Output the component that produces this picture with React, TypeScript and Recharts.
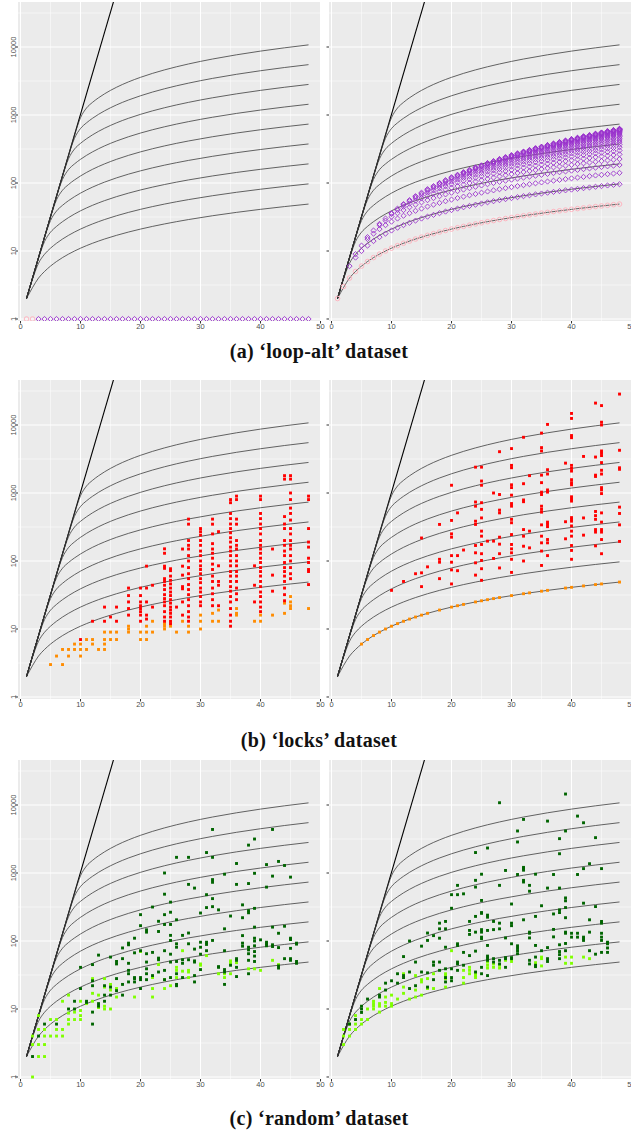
import { ComposedChart, Scatter, Line, XAxis, YAxis, CartesianGrid, ReferenceLine } from "recharts";

// ---- axes ----
const X_DOMAIN: [number, number] = [-0.42, 50.08];
const Y_DOMAIN: [number, number] = [0.9345, 45900];
const X_TICKS = [0, 10, 20, 30, 40, 50];
const X_MINOR = [5, 15, 25, 35, 45];
const Y_TICKS = [1, 10, 100, 1000, 10000];
const Y_MINOR = [3.162, 31.62, 316.2, 3162, 31623];

// ---- reference curves (same in every panel) ----
const steepX = [1, 16];
const steepY = [2, 65536];
const curveX = [1, 2, 3, 4, 5, 6, 7, 8, 9, 10, 11, 12, 13, 14, 16, 18, 20, 24, 28, 32, 36, 40, 44, 48];
const curve1 = [2, 2.9, 4, 5, 6, 7, 8, 9, 10, 11, 12, 13, 14, 15, 17, 19, 21, 25, 29, 33, 37, 41, 45, 49];
const curve2 = [2, 3.85, 6.6, 8.95, 11, 13, 15, 17, 19, 21, 23, 25, 27, 29, 33, 37, 41, 49, 57, 65, 73, 81, 89, 97];
const curve3 = [2, 3.98, 7.8, 13.75, 18.9, 23, 27, 31, 35, 39, 43, 47, 51, 55, 63, 71, 79, 95, 111, 127, 143, 159, 175, 191];
const curve4 = [2, 4, 7.98, 15.7, 28, 38.7, 47, 55, 63, 71, 79, 87, 95, 103, 119, 135, 151, 183, 215, 247, 279, 311, 343, 375];
const curve5 = [2, 4, 8, 16, 31.5, 56.6, 78.3, 95, 111, 127, 143, 159, 175, 191, 223, 255, 287, 351, 415, 479, 543, 607, 671, 735];
const curve6 = [2, 4, 8, 16, 32, 63, 113, 157.5, 191, 223, 255, 287, 319, 351, 415, 479, 543, 671, 799, 927, 1055, 1183, 1311, 1439];
const curve7 = [2, 4, 8, 16, 32, 64, 126, 227, 316, 383, 447, 511, 575, 639, 767, 895, 1023, 1279, 1535, 1791, 2047, 2303, 2559, 2815];
const curve8 = [2, 4, 8, 16, 32, 64, 128, 252, 456, 633, 767, 895, 1023, 1151, 1407, 1663, 1919, 2431, 2943, 3455, 3967, 4479, 4991, 5503];
const curve9 = [2, 4, 8, 16, 32, 64, 128, 256, 505, 912, 1267, 1535, 1791, 2047, 2559, 3071, 3583, 4607, 5631, 6655, 7679, 8703, 9727, 10751];

// ---- (a) loop-alt ----
const loopLeftPinkX = [1, 2];
const loopLeftPurpleX = [3, 4, 5, 6, 7, 8, 9, 10, 11, 12, 13, 14, 15, 16, 17, 18, 19, 20, 21, 22, 23, 24, 25, 26, 27, 28, 29, 30, 31, 32, 33, 34, 35, 36, 37, 38, 39, 40, 41, 42, 43, 44, 45, 46, 47, 48];
const loopRightPinkX = [1, 2, 3, 4, 5, 6, 7, 8, 9, 10, 11, 12, 13, 14, 15, 16, 17, 18, 19, 20, 21, 22, 23, 24, 25, 26, 27, 28, 29, 30, 31, 32, 33, 34, 35, 36, 37, 38, 39, 40, 41, 42, 43, 44, 45, 46, 47, 48];
const loopRightPinkY = [2, 3, 4, 5, 6, 7, 8, 9, 10, 11, 12, 13, 14, 15, 16, 17, 18, 19, 20, 21, 22, 23, 24, 25, 26, 27, 28, 29, 30, 31, 32, 33, 34, 35, 36, 37, 38, 39, 40, 41, 42, 43, 44, 45, 46, 47, 48, 49];
const loopRightPurple: [number, number[]][] = [
  [3, [6]],
  [4, [8, 9]],
  [5, [10, 12]],
  [6, [12, 15, 16]],
  [7, [14, 18, 20]],
  [8, [16, 21, 24, 25]],
  [9, [18, 24, 28, 30]],
  [10, [20, 27, 32, 35, 36]],
  [11, [22, 30, 36, 40, 42]],
  [12, [24, 33, 40, 45, 48, 49]],
  [13, [26, 36, 44, 50, 54, 56]],
  [14, [28, 39, 48, 55, 60, 63, 64]],
  [15, [30, 42, 52, 60, 66, 70, 72]],
  [16, [32, 45, 56, 65, 72, 77, 80, 81]],
  [17, [34, 48, 60, 70, 78, 84, 88, 90]],
  [18, [36, 51, 64, 75, 84, 91, 96, 99, 100]],
  [19, [38, 54, 68, 80, 90, 98, 104, 108, 110]],
  [20, [40, 57, 72, 85, 96, 105, 112, 117, 120, 121]],
  [21, [42, 60, 76, 90, 102, 112, 120, 126, 130, 132]],
  [22, [44, 63, 80, 95, 108, 119, 128, 135, 140, 143, 144]],
  [23, [46, 66, 84, 100, 114, 126, 136, 144, 150, 154, 156]],
  [24, [48, 69, 88, 105, 120, 133, 144, 153, 160, 165, 168, 169]],
  [25, [50, 72, 92, 110, 126, 140, 152, 162, 170, 176, 180, 182]],
  [26, [52, 75, 96, 115, 132, 147, 160, 171, 180, 187, 192, 195, 196]],
  [27, [54, 78, 100, 120, 138, 154, 168, 180, 190, 198, 204, 208, 210]],
  [28, [56, 81, 104, 125, 144, 161, 176, 189, 200, 209, 216, 221, 224, 225]],
  [29, [58, 84, 108, 130, 150, 168, 184, 198, 210, 220, 228, 234, 238, 240]],
  [30, [60, 87, 112, 135, 156, 175, 192, 207, 220, 231, 240, 247, 252, 255, 256]],
  [31, [62, 90, 116, 140, 162, 182, 200, 216, 230, 242, 252, 260, 266, 270, 272]],
  [32, [64, 93, 120, 145, 168, 189, 208, 225, 240, 253, 264, 273, 280, 285, 288, 289]],
  [33, [66, 96, 124, 150, 174, 196, 216, 234, 250, 264, 276, 286, 294, 300, 304, 306]],
  [34, [68, 99, 128, 155, 180, 203, 224, 243, 260, 275, 288, 299, 308, 315, 320, 323, 324]],
  [35, [70, 102, 132, 160, 186, 210, 232, 252, 270, 286, 300, 312, 322, 330, 336, 340, 342]],
  [36, [72, 105, 136, 165, 192, 217, 240, 261, 280, 297, 312, 325, 336, 345, 352, 357, 360, 361]],
  [37, [74, 108, 140, 170, 198, 224, 248, 270, 290, 308, 324, 338, 350, 360, 368, 374, 378, 380]],
  [38, [76, 111, 144, 175, 204, 231, 256, 279, 300, 319, 336, 351, 364, 375, 384, 391, 396, 399, 400]],
  [39, [78, 114, 148, 180, 210, 238, 264, 288, 310, 330, 348, 364, 378, 390, 400, 408, 414, 418, 420]],
  [40, [80, 117, 152, 185, 216, 245, 272, 297, 320, 341, 360, 377, 392, 405, 416, 425, 432, 437, 440, 441]],
  [41, [82, 120, 156, 190, 222, 252, 280, 306, 330, 352, 372, 390, 406, 420, 432, 442, 450, 456, 460, 462]],
  [42, [84, 123, 160, 195, 228, 259, 288, 315, 340, 363, 384, 403, 420, 435, 448, 459, 468, 475, 480, 483, 484]],
  [43, [86, 126, 164, 200, 234, 266, 296, 324, 350, 374, 396, 416, 434, 450, 464, 476, 486, 494, 500, 504, 506]],
  [44, [88, 129, 168, 205, 240, 273, 304, 333, 360, 385, 408, 429, 448, 465, 480, 493, 504, 513, 520, 525, 528, 529]],
  [45, [90, 132, 172, 210, 246, 280, 312, 342, 370, 396, 420, 442, 462, 480, 496, 510, 522, 532, 540, 546, 550, 552]],
  [46, [92, 135, 176, 215, 252, 287, 320, 351, 380, 407, 432, 455, 476, 495, 512, 527, 540, 551, 560, 567, 572, 575, 576]],
  [47, [94, 138, 180, 220, 258, 294, 328, 360, 390, 418, 444, 468, 490, 510, 528, 544, 558, 570, 580, 588, 594, 598, 600]],
  [48, [96, 141, 184, 225, 264, 301, 336, 369, 400, 429, 456, 481, 504, 525, 544, 561, 576, 589, 600, 609, 616, 621, 624, 625]],
];

// ---- (b) locks ----
const locksLeftOrange: [number, number[]][] = [
  [5, [3]], [6, [4]], [7, [5, 3]], [8, [5, 4]], [9, [6, 5]], [10, [6, 5, 4]], [11, [7, 5]], [12, [7, 6]],
  [13, [5]], [14, [9, 7, 6, 5]], [15, [9, 7]], [16, [9, 7]], [18, [11, 10, 9]], [20, [9, 7]], [21, [11, 9, 7]],
  [22, [13, 9]], [24, [12, 11, 10]], [25, [11]], [26, [9]], [27, [13]], [28, [11, 9]], [30, [16, 13, 10]],
  [32, [17, 13]], [33, [19, 13]], [36, [20, 17, 16]], [39, [13]], [40, [16, 13]], [42, [16]], [44, [24, 17]],
  [45, [30, 25, 22, 20]], [48, [20]],
];
const locksLeftRed: [number, number[]][] = [
  [10, [7]], [12, [13]], [14, [21, 13]], [15, [15]], [16, [21, 13]], [18, [40, 31, 25, 20, 16]],
  [20, [40, 31, 25, 22, 20, 18, 16, 13]], [21, [84, 40, 25, 16, 14]], [22, [44, 21]],
  [24, [151, 130, 84, 78, 55, 50, 44, 38, 32, 28, 25, 22, 18, 15, 13]],
  [25, [77, 72, 60, 52, 46, 40, 35, 31, 27, 24, 21, 19, 17, 15, 13, 12]],
  [26, [21]], [27, [150, 84, 62, 42, 39, 25, 16]],
  [28, [413, 348, 200, 170, 150, 120, 100, 80, 65, 55, 45, 38, 32, 27, 22, 18, 15, 13]],
  [30, [300, 270, 240, 200, 170, 140, 120, 100, 85, 75, 65, 55, 48, 40, 35, 30, 25, 22]],
  [32, [413, 348, 250, 180, 150, 130, 110, 90, 75, 60, 50, 40, 33, 27, 22]],
  [33, [270, 85, 50, 44, 22]],
  [35, [800, 720, 500, 420, 350, 300, 260, 220, 190, 160, 140, 120, 100, 85, 70, 60, 50, 42, 36, 30, 25, 20, 16, 13, 11]],
  [36, [900, 800, 413, 348, 200, 170, 150, 120, 100, 85, 70, 60, 50, 40, 33, 27]],
  [39, [85, 44, 25]],
  [40, [900, 800, 500, 420, 350, 300, 250, 200, 170, 150, 130, 110, 95, 80, 70, 60, 50, 42, 35, 30, 25, 21, 18]],
  [42, [150, 62, 36]],
  [44, [1800, 1600, 450, 350, 300, 200, 170, 140, 120, 95, 80, 70, 60, 50, 40, 32, 26]],
  [45, [1800, 1600, 1000, 800, 600, 500, 400, 300, 250, 200, 170, 150, 120, 100, 80, 65, 55]],
  [48, [900, 800, 300, 190, 160, 110, 95, 75, 70, 45]],
];
const locksRightOrangeX = [5, 6, 7, 8, 9, 10, 11, 12, 13, 14, 15, 16, 18, 20, 21, 22, 24, 25, 26, 27, 28, 30, 32, 33, 35, 36, 39, 40, 42, 44, 45, 48];
const locksRightOrangeY = [6, 7, 8, 9, 10, 11, 12, 13, 14, 15, 16, 17, 19, 21, 22, 23, 25, 26, 27, 28, 29, 31, 33, 34, 36, 37, 40, 41, 43, 45, 46, 49];
const locksRightRed: [number, number[]][] = [
  [10, [37]], [12, [50]], [14, [65]], [15, [67, 42, 218]], [16, [82]], [18, [106, 96, 55, 345]],
  [20, [1300, 395, 251, 224, 120, 96, 74, 46]], [21, [510, 120, 72]], [22, [145]],
  [24, [2400, 737, 640, 385, 345, 169, 132, 94, 62]],
  [25, [2400, 1500, 1300, 720, 575, 430, 275, 232, 175, 128, 102, 77, 52]],
  [26, [196]], [27, [1000, 196, 109]],
  [28, [4050, 950, 560, 510, 224, 177, 128, 79]],
  [30, [4500, 2550, 2350, 1320, 1200, 930, 700, 640, 410, 365, 245, 175, 151, 132, 106, 68]],
  [32, [6600, 1370, 790, 745, 290, 232, 165, 100]],
  [33, [1800, 275, 156]],
  [35, [7600, 4650, 4150, 1830, 1420, 1030, 950, 640, 575, 523, 340, 232, 185, 140, 86]],
  [36, [10200, 2200, 1900, 1110, 1030, 373, 345, 320, 207, 185, 120]],
  [39, [2750, 378, 212]],
  [40, [14800, 12500, 7000, 6500, 2550, 2300, 2100, 1570, 1420, 1320, 880, 810, 760, 435, 410, 385, 328, 275, 232, 169, 143, 106]],
  [42, [3450, 430, 240]],
  [44, [21000, 3380, 1830, 1750, 535, 465, 410, 290, 266, 167]],
  [45, [19300, 11000, 10000, 4150, 3850, 3550, 2800, 2160, 1900, 1200, 1110, 980, 510, 373, 290, 266, 207, 128]],
  [48, [28500, 4250, 2350, 2230, 620, 500, 340, 194]],
];

// ---- (c) random ----
const randomLeftLight: [number, number[]][] = [
  [2, [1, 3, 4]], [3, [2, 3, 5, 8]], [4, [5, 4, 3, 2]], [5, [7, 4]], [6, [7, 5, 4]], [7, [13, 5, 4]],
  [8, [16, 8.7, 7, 6]], [9, [9, 7]], [10, [13, 9.5, 8, 7]], [11, [12]], [12, [28, 17, 13]], [13, [16, 10.5]],
  [14, [28, 21, 11, 10]], [15, [23, 19, 10]], [16, [20, 15]], [19, [15]], [20, [70]], [22, [29, 20, 15]],
  [23, [45]], [24, [27, 20]], [25, [22]], [26, [41, 37, 29]], [27, [72, 36]], [28, [37, 35, 29]],
  [30, [46, 44]], [31, [61]], [33, [33]], [34, [33, 29]], [35, [51, 48, 33]], [36, [48]], [38, [39]],
  [39, [39]], [40, [37]], [42, [52]], [43, [45]],
];
const randomLeftDark: [number, number[]][] = [
  [2, [2]], [3, [4]], [4, [6]], [6, [6]], [8, [10]], [9, [13, 10]], [10, [41, 20]], [11, [13, 12.5]],
  [12, [45, 26, 22, 9, 6]], [13, [62, 12, 11]], [14, [22, 16, 13]], [15, [58, 21, 16]], [16, [50, 46, 28, 18.6]],
  [17, [79, 55, 23, 16]], [18, [93, 88, 47, 37, 33, 25]], [19, [110, 67, 29, 28, 25]],
  [20, [244, 168, 72, 29, 27, 20]], [21, [146, 135, 65, 49, 39, 33, 27]], [22, [316, 68, 31]],
  [23, [195, 138, 56, 53, 35]], [24, [1000, 488, 244, 175, 72, 37, 27]],
  [25, [373, 265, 175, 121, 102, 64, 49, 29]], [26, [1700, 205, 91, 81, 50, 33, 23, 22]],
  [27, [121, 53, 47, 29]], [28, [1700, 680, 131, 91, 53]], [29, [600, 76, 51, 49, 31, 25]],
  [30, [258, 96, 81, 64, 38]], [31, [2000, 480, 310, 96, 89, 72]], [32, [4370, 1700, 800, 730, 420, 320, 102]],
  [33, [287, 42, 41]], [34, [960, 151, 72, 38, 35, 23]], [35, [233, 44]], [36, [1380, 680, 55, 52, 41, 30]],
  [37, [340, 220, 120, 93, 84]], [38, [2570, 700, 280, 260, 81, 74, 65, 52, 33]],
  [39, [3160, 990, 302, 160, 110, 100, 85, 70, 60, 50]], [40, [104]], [41, [1330, 620, 96, 91, 85]],
  [42, [4370, 900, 160, 88, 83]], [43, [1480, 130, 80, 43, 40]], [44, [1290, 165, 55]],
  [45, [870, 110, 105, 78, 55, 52]], [46, [93, 90, 50, 47]],
];
const randomRightLight: [number, number[]][] = [
  [2, [3, 4, 5]], [3, [4, 5, 6]], [4, [5, 6, 8]], [5, [6, 7]], [6, [7, 10]], [7, [10, 11, 12, 13]],
  [8, [9, 12, 11, 20]], [9, [15, 12.5, 11]], [10, [16, 12, 11]], [11, [14]], [12, [33, 21, 17]], [13, [14]],
  [14, [31, 19, 15]], [15, [27, 25, 16]], [16, [28, 20]], [17, [33, 20]], [19, [33, 31, 28, 21]], [20, [72]],
  [22, [37, 29, 24]], [23, [41, 37, 33]], [24, [33, 31, 29]], [26, [49, 44, 40]], [27, [46, 41]], [28, [44, 40]],
  [29, [52]], [30, [50]], [34, [48]], [35, [58, 55, 43]], [39, [58, 47]], [40, [58, 47]], [42, [58]], [43, [55]],
];
const randomRightDark: [number, number[]][] = [
  [3, [6]], [4, [7]], [5, [8.9, 10, 11]], [6, [14]], [8, [16, 15]], [9, [24, 19]], [10, [26]], [11, [33, 24]],
  [12, [59, 31, 29]], [13, [100, 35, 20]], [14, [49, 22]], [15, [84, 35]], [16, [131, 102, 34, 21]],
  [17, [120, 49, 44, 27]], [18, [183, 151, 110, 49, 37]], [19, [194, 151, 81, 39, 29, 25]],
  [20, [480, 303, 39, 29, 26]], [21, [658, 480, 91, 86, 49, 46, 37]], [22, [494, 68, 44]],
  [23, [194, 143, 125, 61]], [24, [2000, 780, 621, 230, 135, 71, 35]],
  [25, [960, 395, 262, 255, 147, 135, 114, 108, 41, 33]], [26, [2330, 240, 224, 143, 86, 60, 56, 52, 31]],
  [27, [194, 147, 55, 49]], [28, [10800, 658, 183, 151, 52, 46]], [29, [1090, 111, 57, 55, 41]],
  [30, [350, 183, 168, 91, 57, 55]], [31, [4150, 2860, 950, 85, 78, 72, 65]],
  [32, [6140, 1210, 1160, 1100, 780, 737, 205]], [33, [658, 540, 135, 130, 111, 52, 46]],
  [34, [960, 230, 86, 58, 44, 42]], [35, [330, 72]], [36, [5800, 600, 80, 55, 50]], [37, [950, 250, 148, 115]],
  [38, [3200, 1920, 600, 287, 262, 88, 70, 63, 55]], [39, [14500, 4150, 430, 390, 310, 220, 135, 130, 92, 72]],
  [40, [130, 114]], [41, [6870, 950, 130, 114]], [42, [5480, 1160, 360, 114, 108, 102]], [43, [1370, 205, 135, 72]],
  [44, [3310, 321, 64]], [45, [1160, 194, 183, 130, 114, 102, 68]], [46, [96, 91, 79, 68]],
];

// ---- helpers ----
type Pt = { x: number; y: number };
const cols = (c: [number, number[]][]): Pt[] => c.flatMap(([x, ys]) => ys.map((y) => ({ x, y })));
const pairs = (xs: number[], ys: number[]): Pt[] => xs.map((x, i) => ({ x, y: ys[i] }));

const steepLine = pairs(steepX, steepY);
const curveLines = [curve1, curve2, curve3, curve4, curve5, curve6, curve7, curve8, curve9].map((c) => pairs(curveX, c));

const PURPLE = "#9A32CD";
const PINK = "#FFB6C1";
const RED = "#FF0000";
const ORANGE = "#FF8C00";
const DARKGREEN = "#006400";
const LIGHTGREEN = "#7FFF00";

const square = (color: string) => (p: any) => (
  <rect x={p.cx - 1.45} y={p.cy - 1.45} width={2.9} height={2.9} fill={color} />
);
const diamond = (color: string) => (p: any) => (
  <path
    d={`M${p.cx},${p.cy - 2.6}L${p.cx + 2.6},${p.cy}L${p.cx},${p.cy + 2.6}L${p.cx - 2.6},${p.cy}Z`}
    fill="none"
    stroke={color}
    strokeWidth={0.9}
  />
);
const ring = (color: string) => (p: any) => (
  <circle cx={p.cx} cy={p.cy} r={2.3} fill="none" stroke={color} strokeWidth={1} />
);

const TICK_FONT = { fontSize: 7.5, fill: "#4D4D4D", fontFamily: "'Liberation Sans', Arial, sans-serif" };

const YTick = ({ y, payload }: any) => (
  <text
    x={13.3}
    y={y}
    dy="0.35em"
    textAnchor="middle"
    transform={`rotate(-90 13.3 ${y})`}
    {...TICK_FONT}
  >
    {payload.value}
  </text>
);
const NoTick = () => <g />;

type Layer = { data: Pt[]; shape: (p: any) => any };

function Panel({ left, top, labels, layers }: { left: number; top: number; labels: boolean; layers: Layer[] }) {
  const yW = labels ? 18 : 7;
  const padR = labels ? 8 : 0;
  return (
    <div style={{ position: "absolute", left: left - yW, top }}>
      <ComposedChart width={yW + 303 + padR} height={319 + 14} margin={{ top: 0, right: padR, bottom: 0, left: 0 }}>
        <CartesianGrid
          fill="#EBEBEB"
          stroke="#FFFFFF"
          strokeWidth={1}
          horizontalValues={Y_TICKS}
          verticalValues={X_TICKS}
        />
        {X_MINOR.map((v) => (
          <ReferenceLine key={"xm" + v} x={v} stroke="#FFFFFF" strokeWidth={0.5} />
        ))}
        {Y_MINOR.map((v) => (
          <ReferenceLine key={"ym" + v} y={v} stroke="#FFFFFF" strokeWidth={0.5} />
        ))}
        <XAxis
          type="number"
          dataKey="x"
          domain={X_DOMAIN}
          allowDataOverflow
          ticks={X_TICKS}
          interval={0}
          height={14}
          axisLine={false}
          tickSize={2.5}
          tickMargin={0.5}
          tickLine={{ stroke: "#333333" }}
          tick={TICK_FONT}
        />
        <YAxis
          type="number"
          dataKey="y"
          scale="log"
          domain={Y_DOMAIN}
          allowDataOverflow
          ticks={Y_TICKS}
          interval={0}
          width={yW}
          axisLine={false}
          tickSize={2.5}
          tickLine={{ stroke: "#333333" }}
          tick={labels ? <YTick /> : <NoTick />}
        />
        {layers.map((l, i) => (
          <Scatter key={i} data={l.data} dataKey="y" shape={l.shape} isAnimationActive={false} />
        ))}
        <Line data={steepLine} dataKey="y" type="linear" stroke="#000000" strokeWidth={1.1} dot={false} isAnimationActive={false} />
        {curveLines.map((c, i) => (
          <Line key={i} data={c} dataKey="y" type="monotone" stroke="#333333" strokeWidth={0.75} dot={false} isAnimationActive={false} />
        ))}
      </ComposedChart>
    </div>
  );
}

const Caption = ({ top, text }: { top: number; text: string }) => (
  <div
    style={{
      position: "absolute",
      left: 119,
      width: 400,
      top,
      lineHeight: "24px",
      textAlign: "center",
      fontFamily: "'Liberation Serif', 'DejaVu Serif', serif",
      fontWeight: "bold",
      fontSize: 20,
      letterSpacing: 0.3,
      color: "#111",
    }}
  >
    {text}
  </div>
);

export default function App() {
  const ones = (xs: number[]) => xs.map((x) => ({ x, y: 1 }));
  return (
    <div style={{ position: "absolute", left: 0, top: 0, width: 631, height: 1131, overflow: "hidden", background: "#fff" }}>
      <Panel
        left={18}
        top={2}
        labels
        layers={[
          { data: ones(loopLeftPinkX), shape: ring(PINK) },
          { data: ones(loopLeftPurpleX), shape: diamond(PURPLE) },
        ]}
      />
      <Panel
        left={328.5}
        top={2}
        labels={false}
        layers={[
          { data: pairs(loopRightPinkX, loopRightPinkY), shape: ring(PINK) },
          { data: cols(loopRightPurple), shape: diamond(PURPLE) },
        ]}
      />
      <Caption top={339} text="(a) ‘loop-alt’ dataset" />

      <Panel
        left={18}
        top={380}
        labels
        layers={[
          { data: cols(locksLeftOrange), shape: square(ORANGE) },
          { data: cols(locksLeftRed), shape: square(RED) },
        ]}
      />
      <Panel
        left={328.5}
        top={380}
        labels={false}
        layers={[
          { data: pairs(locksRightOrangeX, locksRightOrangeY), shape: square(ORANGE) },
          { data: cols(locksRightRed), shape: square(RED) },
        ]}
      />
      <Caption top={728} text="(b) ‘locks’ dataset" />

      <Panel
        left={18}
        top={760}
        labels
        layers={[
          { data: cols(randomLeftLight), shape: square(LIGHTGREEN) },
          { data: cols(randomLeftDark), shape: square(DARKGREEN) },
        ]}
      />
      <Panel
        left={328.5}
        top={760}
        labels={false}
        layers={[
          { data: cols(randomRightLight), shape: square(LIGHTGREEN) },
          { data: cols(randomRightDark), shape: square(DARKGREEN) },
        ]}
      />
      <Caption top={1106} text="(c) ‘random’ dataset" />
    </div>
  );
}
